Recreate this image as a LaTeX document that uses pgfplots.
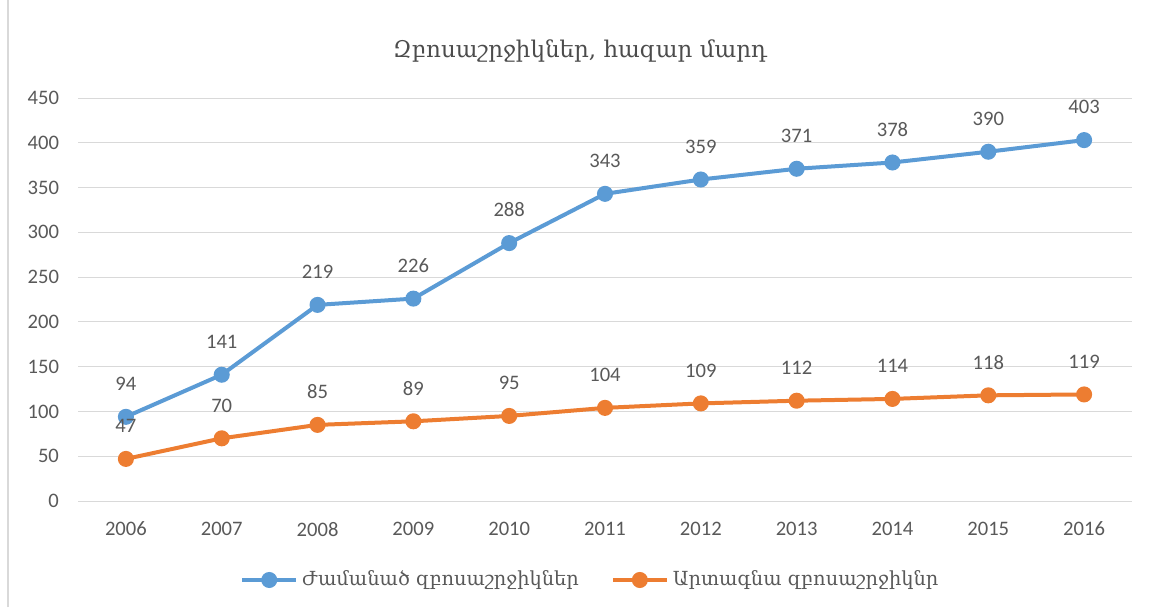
\documentclass[border=0pt]{standalone}
\usepackage{fontspec}
\usepackage{pgfplots}
\pgfplotsset{compat=1.18}
\setmainfont{Carlito}
\newfontfamily\armfont{DejaVu Serif}
\definecolor{cblue}{HTML}{5B9BD5}
\definecolor{corange}{HTML}{ED7D31}
\definecolor{ctext}{HTML}{595959}
\definecolor{cgrid}{HTML}{D9D9D9}
\begin{document}
\begin{tikzpicture}
\useasboundingbox (0pt,0pt) rectangle (577pt,303.5pt);
\draw[cgrid, line width=0.6pt] (4pt,0pt) -- (4pt,303.5pt);
\node[text=ctext!85!black, font=\armfont\fontsize{11.5}{14}\selectfont] at (290pt,278pt) {Զբոսաշրջիկներ, հազար մարդ};
\begin{axis}[
  at={(39pt,53pt)}, anchor=south west,
  scale only axis, width=527pt, height=201.5pt,
  xmin=-0.5, xmax=10.5, ymin=0, ymax=450,
  xtick={0,...,10},
  xticklabels={2006,2007,2008,2009,2010,2011,2012,2013,2014,2015,2016},
  ytick={0,50,...,450},
  ymajorgrids, grid style={draw=cgrid, line width=0.5pt},
  axis x line*=bottom, axis y line*=left,
  x axis line style={draw=cgrid, line width=0.5pt, -},
  y axis line style={draw=none},
  tick style={draw=none},
  ticklabel style={text=ctext, font=\fontsize{10.3}{12}\selectfont},
  /pgf/number format/assume math mode=true,
  xticklabel style={yshift=-7pt},
  yticklabel style={xshift=-6pt},
  nodes near coords,
  every node near coord/.append style={anchor=south, inner sep=0pt, yshift=12pt, text=ctext, font=\fontsize{10.3}{12}\selectfont},
  legend columns=2,
  legend style={at={(0.487,-0.196)}, anchor=center, draw=none, fill=none,
    font=\armfont\fontsize{9.7}{11}\selectfont, text=ctext,
    /tikz/every even column/.append style={column sep=14pt}},
  legend image code/.code={\draw[mark repeat=2, mark phase=2, #1] plot coordinates {(0pt,0pt) (13.5pt,0pt) (27pt,0pt)};},
]
\addplot[cblue, line width=2pt, mark=*, mark size=3pt, mark options={solid}] coordinates {
(0,94) (1,141) (2,219) (3,226) (4,288) (5,343) (6,359) (7,371) (8,378) (9,390) (10,403)};
\addlegendentry{Ժամանած զբոսաշրջիկներ}
\addplot[corange, line width=2pt, mark=*, mark size=3pt, mark options={solid}] coordinates {
(0,47) (1,70) (2,85) (3,89) (4,95) (5,104) (6,109) (7,112) (8,114) (9,118) (10,119)};
\addlegendentry{Արտագնա զբոսաշրջիկնր}
\end{axis}
\end{tikzpicture}
\end{document}
